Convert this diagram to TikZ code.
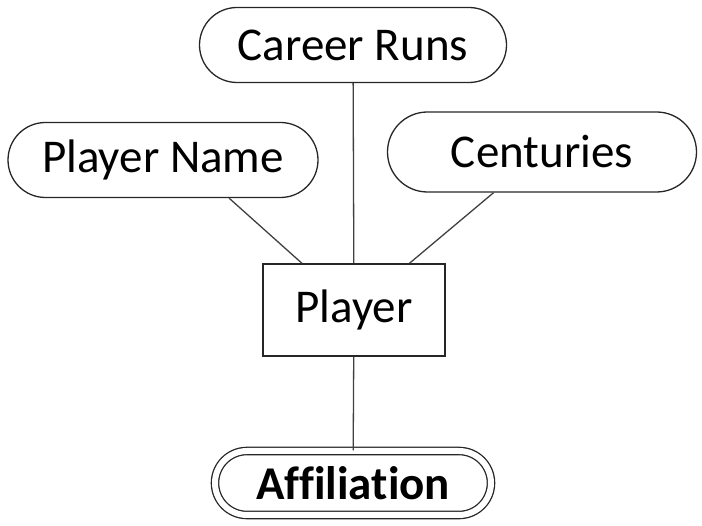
\documentclass[tikz,border=0pt]{standalone}
\usepackage{fontspec}
\setmainfont[Ligatures=NoCommon]{Carlito}
\usetikzlibrary{shapes.misc, positioning}

\begin{document}
\begin{tikzpicture}[x=1pt, y=1pt,
    attr/.style={draw=black!85, line width=1.3pt, rounded rectangle, minimum width=307pt, minimum height=75pt, inner sep=0pt, font=\fontsize{47}{50}\selectfont},
    entity/.style={draw=black!85, line width=1.5pt, rectangle, minimum width=182pt, minimum height=92pt, inner sep=0pt, font=\fontsize{47}{50}\selectfont},
    link/.style={draw=black!75, line width=1.3pt}]
  \useasboundingbox (0,0) rectangle (702,-526);
  \node[attr] (runs) at (353,-45) {Career Runs};
  \node[attr, minimum width=310pt] (pname) at (163,-160) {Player Name};
  \node[attr, minimum width=309pt, minimum height=80pt] (cent) at (542,-152) {Centuries};
  \node[entity] (player) at (354,-310) {Player};
  \node[attr, double, double distance=6pt, minimum width=276pt, minimum height=64pt, font=\fontsize{47}{50}\selectfont\bfseries] (affil) at (353,-483) {Affiliation};

  \draw[link] (runs) -- (player);
  \draw[link] (pname.-30) -- (player);
  \draw[link] (cent) -- (player);
  \draw[link] (player) -- (affil);
\end{tikzpicture}
\end{document}
